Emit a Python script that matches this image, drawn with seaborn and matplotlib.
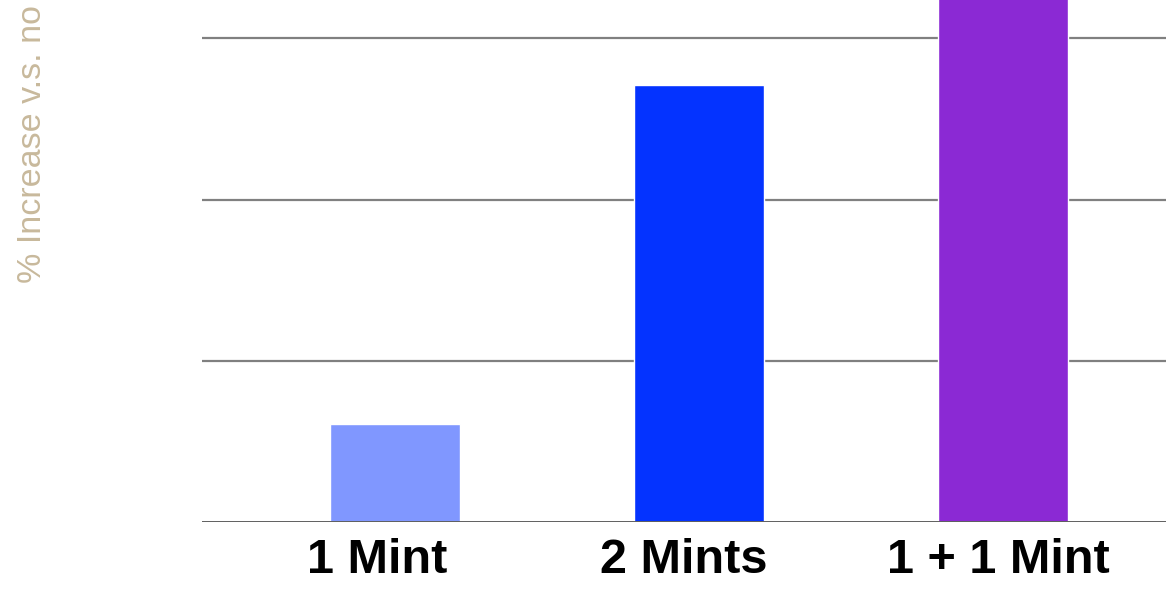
import matplotlib
matplotlib.use("Agg")
import matplotlib.pyplot as plt
import matplotlib.transforms as mtransforms
import seaborn as sns
import pandas as pd

# Data
categories = ["1 Mint", "2 Mints", "1 + 1 Mint"]
values = [6.1, 27.1, 36]
colors = ["#8097FF", "#0433FF", "#8B29D4"]
y_label = "% Increase v.s. no"
grid_ticks = [0, 10, 20, 30, 40]
# horizontal nudge of each category caption, in pixels
label_shift_px = [-18, -15, -5]

df = pd.DataFrame({"group": categories, "value": values})

sns.set_theme(style="white")
plt.rcParams["font.family"] = ["Liberation Sans", "DejaVu Sans"]

W, H, DPI = 1166, 597, 100
fig = plt.figure(figsize=(W / DPI, H / DPI), dpi=DPI)

# Axes frame (extends past the canvas on the top and right)
left_px, right_px, base_px, top_px = 202, 1196, 522, -123
ax = fig.add_axes([left_px / W, (H - base_px) / H,
                   (right_px - left_px) / W, (base_px - top_px) / H])

sns.barplot(data=df, x="group", y="value", hue="group",
            palette=colors, width=0.43, legend=False, ax=ax,
            saturation=1, zorder=3)

ax.set_ylim(0, 40)
ax.set_xlim(-0.635, 2.635)
ax.set_yticks(grid_ticks)
ax.set_yticklabels([])
for t in grid_ticks[1:]:
    ax.axhline(t, color="#808080", linewidth=1.6, zorder=1)
ax.axhline(0, color="#5f5f5f", linewidth=1.4, zorder=4)

for s in ax.spines.values():
    s.set_visible(False)
ax.grid(False)
ax.set_xlabel("")
ax.set_ylabel("")
ax.tick_params(axis="both", length=0)
ax.set_xticklabels([])

# Category captions under the bars
base = mtransforms.blended_transform_factory(ax.transData, ax.transAxes)
for i, (cat, dx) in enumerate(zip(categories, label_shift_px)):
    tr = base + mtransforms.ScaledTranslation(dx / DPI, -51 / DPI,
                                              fig.dpi_scale_trans)
    ax.text(i, 0, cat, transform=tr, ha="center", va="baseline",
            fontsize=35, fontweight="bold", color="black", clip_on=False)

fig.text(33 / W, (H - 283) / H, y_label, rotation=90, ha="center",
         va="bottom", fontsize=24.5, color="#C8B99C")

fig.savefig("out.png", dpi=DPI)
